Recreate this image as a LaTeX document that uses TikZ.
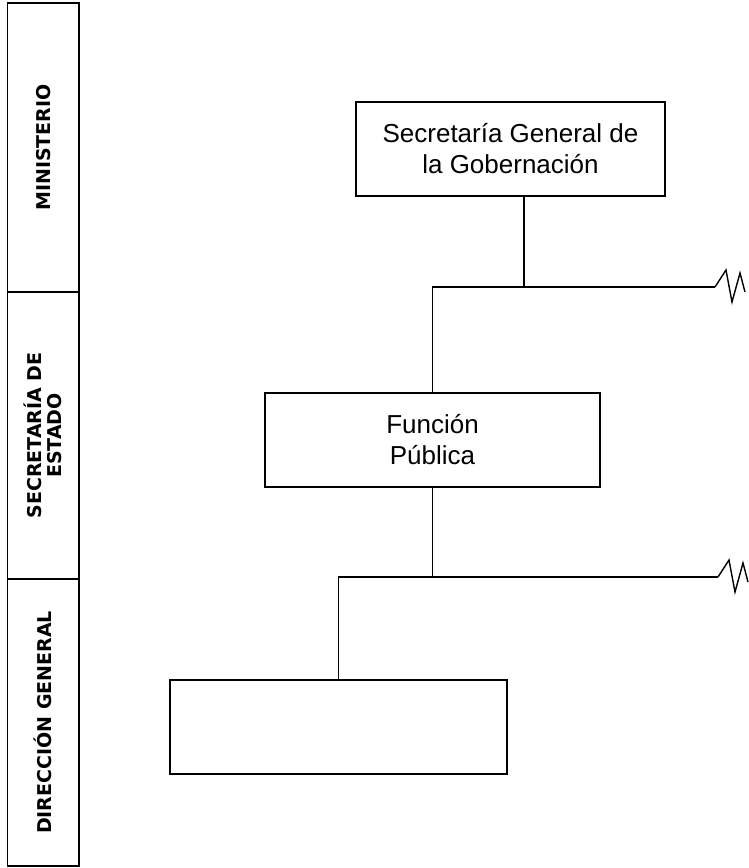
\documentclass[tikz,border=0pt]{standalone}
\usepackage{fontspec}
\setmainfont{Liberation Sans}
\newfontfamily\bandafont{DejaVu Sans}
\usepackage{tikz}

\tikzset{
  caja/.style={draw,line width=1.6pt,align=center,inner sep=0pt,
    font=\fontsize{26}{31}\selectfont},
  banda/.style={draw,line width=1.6pt,rotate=90,align=center,inner sep=0pt,
    minimum height=71.5pt,font=\bandafont\bfseries\fontsize{19}{20}\selectfont},
  linea/.style={line width=1.4pt},
  corte/.pic={\draw[linea] (0,0) -- (11,-17) -- (17,15) -- (25,-14) -- (30,5);}
}

\begin{document}
\begin{tikzpicture}[x=1pt,y=-1pt]
\useasboundingbox (0,0) rectangle (748,868);

% niveles
\node[banda,minimum width=289pt] (min) at (43.2,147.5) {MINISTERIO};
\node[banda,minimum width=287pt] (sec) at (43.2,435.5) {SECRETARÍA DE\\ESTADO};
\node[banda,minimum width=287pt] (dir) at (43.2,722.5) {DIRECCIÓN GENERAL};

% unidades
\node[caja,minimum width=309pt,minimum height=94pt] (sgg) at (510.5,149) {Secretaría General de\\la Gobernación};
\node[caja,minimum width=335pt,minimum height=94pt] (fp) at (432.5,440) {Función\\Pública};
\node[caja,minimum width=337pt,minimum height=94pt] (dg) at (338.5,727) {};

% lineas
\coordinate (c1) at (524,287);
\coordinate (e1) at (715,287);
\coordinate (c2) at (432.5,577);
\coordinate (e2) at (718,577);

\draw[linea] (sgg.south -| c1) -- (c1);
\draw[linea] (fp.north) -- (fp.north |- c1) -- (e1);
\pic at (e1) {corte};

\draw[linea] (fp.south) -- (c2);
\draw[linea] (dg.north) -- (dg.north |- c2) -- (e2);
\pic at (e2) {corte};

\end{tikzpicture}
\end{document}
